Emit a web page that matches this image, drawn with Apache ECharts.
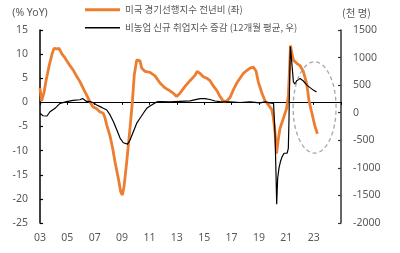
<!DOCTYPE html>
<html><head><meta charset="utf-8">
<script src="https://cdn.jsdelivr.net/npm/echarts@6/dist/echarts.min.js"></script>
<style>html,body{margin:0;padding:0;background:#fff}#c{width:400px;height:253px}</style>
</head><body><div id="c"></div>
<script>
// US LEI YoY (%), left axis: [year, value]
const leiYears = [2003.00,2003.12,2003.29,2003.44,2003.66,2003.88,2004.02,2004.24,2004.39,2004.61,2004.83,2004.97,2005.19,2005.43,2005.70,2005.92,2006.14,2006.41,2006.65,2006.87,2007.14,2007.39,2007.61,2007.75,2007.88,2007.99,2008.12,2008.31,2008.48,2008.72,2008.90,2009.02,2009.14,2009.34,2009.47,2009.58,2009.75,2009.89,2010.07,2010.19,2010.31,2010.43,2010.68,2011.04,2011.41,2011.77,2012.14,2012.49,2012.74,2012.99,2013.23,2013.60,2013.96,2014.33,2014.48,2014.70,2014.94,2015.19,2015.43,2015.67,2015.94,2016.16,2016.40,2016.65,2016.89,2017.13,2017.38,2017.62,2017.86,2018.11,2018.35,2018.59,2018.79,2018.96,2019.21,2019.45,2019.69,2019.94,2020.05,2020.18,2020.29,2020.40,2020.54,2020.79,2021.03,2021.15,2021.24,2021.31,2021.42,2021.52,2021.76,2022.01,2022.25,2022.50,2022.66,2022.88,2023.10,2023.28];
const leiValues = [3.0,0.3,2.0,4.5,7.5,10.0,11.2,11.1,11.2,10.0,9.2,8.8,7.6,6.7,5.3,4.3,3.0,1.5,0.1,-0.9,-1.3,-2.0,-2.2,-3.2,-4.7,-5.0,-7.0,-9.5,-12.3,-15.7,-18.5,-19.2,-17.5,-12.3,-8.5,-5.3,0.1,5.7,8.8,9.0,8.6,7.1,6.4,6.2,5.5,4.0,3.0,2.4,1.9,1.2,1.9,3.3,4.5,5.6,6.4,6.0,5.3,5.0,4.5,3.4,2.4,1.2,0.2,0.3,1.0,2.6,4.0,5.0,6.0,6.6,7.1,7.3,6.5,4.2,2.0,0.3,-0.5,-1.5,-3.0,-6.3,-10.6,-8.0,-5.4,-3.3,-1.2,1.5,7.0,11.8,10.0,8.8,8.1,7.6,6.4,3.8,0.3,-2.3,-5.0,-6.5];
// Nonfarm payroll change, 12M avg (thousand), right axis
const nfpYears = [2003.00,2003.22,2003.51,2003.73,2004.10,2004.46,2004.95,2005.41,2005.92,2006.11,2006.41,2006.65,2006.90,2007.14,2007.39,2007.63,2007.88,2008.12,2008.36,2008.61,2008.85,2009.09,2009.40,2009.58,2009.82,2010.07,2010.31,2010.55,2010.80,2011.04,2011.28,2011.53,2011.77,2012.50,2013.23,2013.96,2014.70,2015.06,2015.43,2015.79,2016.16,2016.89,2017.62,2018.35,2019.08,2019.45,2019.81,2020.07,2020.18,2020.25,2020.30,2020.37,2020.47,2020.57,2020.69,2020.84,2020.96,2021.06,2021.15,2021.20,2021.25,2021.30,2021.40,2021.52,2021.64,2021.76,2021.88,2022.01,2022.25,2022.50,2022.74,2022.98,2023.21];
const nfpValues = [-10,-55,-60,18,80,170,200,225,235,257,205,200,180,140,110,80,50,-40,-160,-310,-460,-545,-570,-495,-345,-190,-100,-10,80,120,157,195,200,195,205,215,255,255,240,212,200,195,185,195,180,195,180,170,-400,-1130,-1660,-1190,-1000,-890,-800,-735,-715,-735,-645,-100,680,1200,920,560,520,580,615,620,575,500,455,410,375];
const xTicks = [2003,2005,2007,2009,2011,2013,2015,2017,2019,2021,2023];
const seriesNames = ['미국 경기선행지수 전년비 (좌)','비농업 신규 취업지수 증감 (12개월 평균, 우)'];

const font = "'Noto Sans', 'Noto Sans CJK KR', sans-serif";
const lblColor = '#595959';
const legendText = {fontSize:9.5,color:lblColor,fontFamily:"'Noto Sans CJK KR', sans-serif"};
const chart = echarts.init(document.getElementById('c'), null, {renderer:'canvas'});
chart.setOption({
  animation:false,
  backgroundColor:'#fff',
  textStyle:{fontFamily:font},
  grid:{left:40,right:59,top:30,bottom:30},
  legend:[{
    left:80, top:0, itemWidth:35, itemHeight:3, icon:'rect', itemGap:5,
    textStyle:legendText, data:[seriesNames[0]]
  },{
    left:80, top:18, itemWidth:35, itemHeight:1.5, icon:'rect',
    textStyle:legendText, data:[seriesNames[1]]
  }],
  xAxis:[{
    type:'value', min:2003, max:2025, interval:2, position:'bottom',
    axisLine:{show:false,onZero:false}, axisTick:{show:false}, splitLine:{show:false},
    axisLabel:{margin:10,fontSize:10.5,color:lblColor,
      formatter:v=> xTicks.indexOf(v)>=0 ? String(v).slice(2) : ''}
  },{
    type:'value', min:2003, max:2025, interval:2, position:'top',
    axisLine:{show:true,onZero:true,onZeroAxisIndex:0,lineStyle:{color:'#000',width:1.2}},
    axisTick:{show:true,inside:true,length:2.5,lineStyle:{color:'#000'}},
    axisLabel:{show:false}, splitLine:{show:false}
  }],
  yAxis:[{
    type:'value', min:-25, max:15, interval:5, position:'left',
    name:'(% YoY)', nameLocation:'end', nameGap:12,
    nameTextStyle:{fontSize:10.5,color:lblColor,align:'center',padding:[0,20,0,0]},
    axisLine:{show:true,lineStyle:{color:'#000',width:1.5}},
    axisTick:{show:true,inside:true,length:3,lineStyle:{color:'#000',width:1.2}},
    axisLabel:{margin:12,fontSize:10.5,color:lblColor},
    splitLine:{show:false}
  },{
    type:'value', min:-2000, max:1500, interval:500, position:'right',
    name:'(천 명)', nameLocation:'end', nameGap:12,
    nameTextStyle:{fontSize:10.5,color:lblColor,align:'center',padding:[0,0,0,31],fontFamily:"'Noto Sans CJK KR', sans-serif"},
    axisLine:{show:true,lineStyle:{color:'#333',width:1.5}},
    axisTick:{show:true,inside:true,length:3,lineStyle:{color:'#333',width:1.2}},
    axisLabel:{margin:12,fontSize:10.5,color:lblColor,formatter:v=>String(v)},
    splitLine:{show:false}
  }],
  series:[{
    name:seriesNames[0], type:'line', xAxisIndex:0, yAxisIndex:0, symbol:'none',
    lineStyle:{color:'#ED7D31',width:2.8}, itemStyle:{color:'#ED7D31'},
    data:leiYears.map((y,i)=>[y,leiValues[i]])
  },{
    name:seriesNames[1], type:'line', xAxisIndex:0, yAxisIndex:1, symbol:'none',
    lineStyle:{color:'#000',width:1.2}, itemStyle:{color:'#000'},
    data:nfpYears.map((y,i)=>[y,nfpValues[i]])
  }]
});
// dashed ellipse highlighting recent period (anchored to data coordinates)
const c = chart.convertToPixel({xAxisIndex:0,yAxisIndex:0},[2023.07,-1.06]);
const e1 = chart.convertToPixel({xAxisIndex:0,yAxisIndex:0},[2024.64,8.4]);
chart.setOption({graphic:[{type:'ellipse',silent:true,z:10,
  shape:{cx:c[0],cy:c[1],rx:Math.abs(e1[0]-c[0]),ry:Math.abs(e1[1]-c[1])},
  style:{fill:'none',stroke:'#A6A6A6',lineWidth:1.3,lineDash:[4,3]}}]});
</script></body></html>
